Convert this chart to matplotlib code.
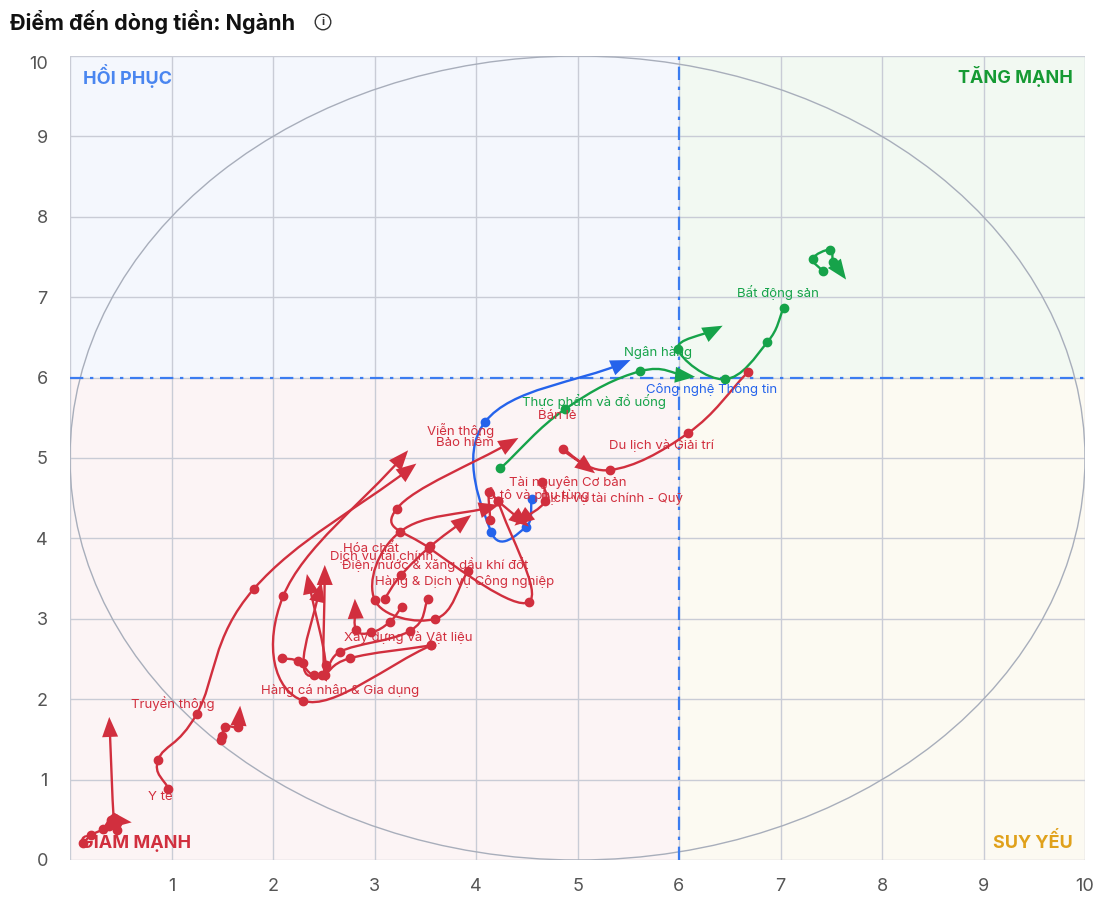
import numpy as np
import matplotlib
matplotlib.use("Agg")
import matplotlib.pyplot as plt
from matplotlib.path import Path
from matplotlib.patches import PathPatch, Ellipse, Rectangle

plt.rcParams['font.family'] = ['Inter', 'DejaVu Sans']

# --- Ngưỡng chia 4 góc phần tư ---
X_MID = 6
Y_MID = 6

# --- Quỹ đạo từng ngành (điểm cũ -> điểm mới nhất) ---
bat_dong_san_x = [7.03, 6.87, 6.45, 5.99, 6.36]
bat_dong_san_y = [6.86, 6.44, 5.98, 6.36, 6.60]
ngan_hang_x = [7.42, 7.32, 7.49, 7.52, 7.60]
ngan_hang_y = [7.32, 7.48, 7.59, 7.44, 7.30]
thuc_pham_x = [4.24, 4.88, 5.62, 6.08]
thuc_pham_y = [4.87, 5.61, 6.08, 6.02]
cntt_x = [4.55, 4.49, 4.15, 4.09, 5.45]
cntt_y = [4.49, 4.14, 4.08, 5.45, 6.18]
ban_le_x = [3.53, 3.35, 2.66, 2.51, 2.51]
ban_le_y = [3.25, 2.85, 2.59, 2.30, 3.57]
du_lich_x = [6.68, 6.09, 5.32, 4.86, 5.11]
du_lich_y = [6.07, 5.31, 4.85, 5.11, 4.87]
vien_thong_x = [0.97, 0.87, 1.25, 1.81, 3.35]
vien_thong_y = [0.88, 1.25, 1.82, 3.37, 4.87]
bao_hiem_x = [4.22, 4.52, 3.54, 3.22, 4.35]
bao_hiem_y = [4.46, 3.21, 3.88, 4.37, 5.20]
tai_nguyen_x = [4.65, 4.68, 4.44]
tai_nguyen_y = [4.70, 4.46, 4.22]
o_to_x = [4.14, 4.13, 4.22, 4.46]
o_to_y = [4.23, 4.58, 4.46, 4.21]
dvtc_quy_x = [3.92, 3.60, 3.00, 3.25, 4.15]
dvtc_quy_y = [3.59, 3.00, 3.24, 4.08, 4.39]
hoa_chat_x = [3.10, 3.26, 3.55, 3.89]
hoa_chat_y = [3.25, 3.54, 3.90, 4.23]
dvtc_x = [3.27, 3.15, 2.97, 2.82, 2.81]
dvtc_y = [3.15, 2.96, 2.83, 2.86, 3.15]
dien_nuoc_x = [3.56, 2.76, 2.48, 2.30, 2.46]
dien_nuoc_y = [2.67, 2.51, 2.30, 2.45, 3.36]
cong_nghiep_x = [3.56, 2.30, 2.10, 3.28]
cong_nghiep_y = [2.67, 1.98, 3.28, 5.02]
xay_dung_x = [2.09, 2.25, 2.40, 2.52, 2.35]
xay_dung_y = [2.51, 2.47, 2.30, 2.42, 3.46]
ca_nhan_x = [0.38, 0.46, 0.46, 0.43, 0.39]
ca_nhan_y = [0.42, 0.46, 0.37, 0.52, 1.68]
truyen_thong_x = [1.49, 1.50, 1.53, 1.66, 1.67]
truyen_thong_y = [1.49, 1.54, 1.66, 1.66, 1.82]
y_te_x = [0.13, 0.21, 0.33, 0.40, 0.53]
y_te_y = [0.21, 0.31, 0.39, 0.50, 0.48]

sectors = [
    ("Bất động sản", bat_dong_san_x, bat_dong_san_y),
    ("Ngân hàng", ngan_hang_x, ngan_hang_y),
    ("Thực phẩm và đồ uống", thuc_pham_x, thuc_pham_y),
    ("Công nghệ Thông tin", cntt_x, cntt_y),
    ("Bán lẻ", ban_le_x, ban_le_y),
    ("Du lịch và Giải trí", du_lich_x, du_lich_y),
    ("Viễn thông", vien_thong_x, vien_thong_y),
    ("Bảo hiểm", bao_hiem_x, bao_hiem_y),
    ("Tài nguyên Cơ bản", tai_nguyen_x, tai_nguyen_y),
    ("Ô tô và phụ tùng", o_to_x, o_to_y),
    ("Dịch vụ tài chính - Quỹ", dvtc_quy_x, dvtc_quy_y),
    ("Hóa chất", hoa_chat_x, hoa_chat_y),
    ("Dịch vụ tài chính", dvtc_x, dvtc_y),
    ("Điện, nước & xăng dầu khí đốt", dien_nuoc_x, dien_nuoc_y),
    ("Hàng & Dịch vụ Công nghiệp", cong_nghiep_x, cong_nghiep_y),
    ("Xây dựng và Vật liệu", xay_dung_x, xay_dung_y),
    ("Hàng cá nhân & Gia dụng", ca_nhan_x, ca_nhan_y),
    ("Truyền thông", truyen_thong_x, truyen_thong_y),
    ("Y tế", y_te_x, y_te_y),
]

# vị trí nhãn tên ngành (cùng thứ tự với sectors)
label_x = [6.97, 5.79, 5.16, 6.32, 4.80, 5.83, 3.85, 3.89, 4.90, 4.61,
           5.34, 2.97, 3.07, 3.60, 3.89, 3.33, 2.66, 1.01, 0.89]
label_y = [7.06, 6.31, 5.70, 5.85, 5.52, 5.16, 5.34, 5.19, 4.69, 4.55,
           4.49, 3.87, 3.77, 3.67, 3.47, 2.77, 2.11, 1.95, 0.78]

x_ticks = list(range(0, 11))
y_ticks = list(range(0, 11))

# --- Màu ---
C_UP = '#16a34a'      # Tăng mạnh
C_REC = '#2563eb'     # Hồi phục
C_DOWN = '#d12f3e'    # Giảm mạnh
C_WEAK = '#e0a11b'    # Suy yếu


def quad_color(x, y):
    if x >= X_MID and y >= Y_MID:
        return C_UP
    if x < X_MID and y >= Y_MID:
        return C_REC
    if x < X_MID and y < Y_MID:
        return C_DOWN
    return C_WEAK


def smooth_path(xs, ys, k=0.6):
    pts = np.column_stack([xs, ys]).astype(float)
    n = len(pts)
    tang = np.zeros_like(pts)
    for i in range(n):
        if i == 0:
            tang[i] = pts[1] - pts[0]
        elif i == n - 1:
            tang[i] = pts[-1] - pts[-2]
        else:
            tang[i] = (pts[i + 1] - pts[i - 1]) * k
    verts = [pts[0]]
    codes = [Path.MOVETO]
    for i in range(n - 1):
        verts += [pts[i] + tang[i] / 3, pts[i + 1] - tang[i + 1] / 3, pts[i + 1]]
        codes += [Path.CURVE4] * 3
    return Path(verts, codes), pts[-1], tang[-1]


fig = plt.figure(figsize=(11.17, 9.23), dpi=100)
ax = fig.add_axes([70 / 1117, 63 / 923, 1015 / 1117, 804 / 923])
ax.set_xlim(0, 10)
ax.set_ylim(0, 10)

# --- Nền 4 góc ---
ax.add_patch(Rectangle((0, Y_MID), X_MID, 10 - Y_MID, color='#f4f7fd', zorder=0, lw=0))
ax.add_patch(Rectangle((X_MID, Y_MID), 10 - X_MID, 10 - Y_MID, color='#f2f9f2', zorder=0, lw=0))
ax.add_patch(Rectangle((0, 0), X_MID, Y_MID, color='#fcf4f5', zorder=0, lw=0))
ax.add_patch(Rectangle((X_MID, 0), 10 - X_MID, Y_MID, color='#fcfaf2', zorder=0, lw=0))

ax.set_xticks(x_ticks)
ax.set_yticks(y_ticks)
ax.set_xticklabels(['' if t == 0 else str(t) for t in x_ticks])
ax.set_yticklabels([str(t) for t in y_ticks])
ax.tick_params(length=0, labelsize=13, labelcolor='#555555')
ax.tick_params(axis='x', pad=13)
ax.tick_params(axis='y', pad=16)
ax.get_yticklabels()[-1].set_va('top')
ax.grid(True, color='#c9ccd6', lw=1, zorder=1)
ax.set_axisbelow(True)
for s in ax.spines.values():
    s.set_visible(False)

ax.add_patch(Ellipse((5, 5), 10, 10, fill=False, ec='#a8aebb', lw=1, zorder=1.5))
ax.axvline(X_MID, color='#3b7cf0', lw=1.6, ls=(0, (6, 3, 1.5, 3)), zorder=2)
ax.axhline(Y_MID, color='#3b7cf0', lw=1.6, ls=(0, (6, 3, 1.5, 3)), zorder=2)

# --- Nhãn góc phần tư ---
qkw = dict(fontsize=13, fontweight='bold', va='center', zorder=6)
ax.text(0.13, 9.75, 'HỒI PHỤC', ha='left', color='#4a86f0', **qkw)
ax.text(9.88, 9.75, 'TĂNG MẠNH', ha='right', color='#159a33', **qkw)
ax.text(0.10, 0.23, 'GIẢM MẠNH', ha='left', color=C_DOWN, **qkw)
ax.text(9.88, 0.23, 'SUY YẾU', ha='right', color=C_WEAK, **qkw)

fig.canvas.draw()
to_px = ax.transData
to_data = ax.transData.inverted()

# --- Quỹ đạo ---
for i, (name, xs, ys) in enumerate(sectors):
    col = quad_color(xs[-1], ys[-1])
    path, end, tan = smooth_path(xs, ys)
    ax.add_patch(PathPatch(path, fill=False, ec=col, lw=1.7, zorder=3, capstyle='round'))
    ax.plot(xs[:-1], ys[:-1], 'o', ms=6, color=col, zorder=4)

    # đầu mũi tên tại điểm mới nhất
    p_end = to_px.transform(end)
    p_prev = to_px.transform(end - tan * 0.05)
    d = p_end - p_prev
    d = d / np.hypot(*d)
    nrm = np.array([-d[1], d[0]])
    tip = p_end + d * 8
    base = tip - d * 20
    tri = np.array([tip, base + nrm * 8, base - nrm * 8])
    tri = to_data.transform(tri)
    ax.fill(tri[:, 0], tri[:, 1], color=col, zorder=4, lw=0)

    ax.text(label_x[i], label_y[i], name, ha='center', va='center',
            fontsize=9.5, color=col, zorder=5)

fig.text(10 / 1117, 1 - 22 / 923, 'Điểm đến dòng tiền: Ngành', fontsize=15.5,
         fontweight='bold', va='center', ha='left', color='#111111')
fig.text(323 / 1117, 1 - 22 / 923, 'i', fontsize=8, va='center', ha='center',
         color='#333333', fontweight='bold',
         bbox=dict(boxstyle='circle,pad=0.25', fc='none', ec='#333333', lw=1))

fig.savefig('out.png', dpi=100)
